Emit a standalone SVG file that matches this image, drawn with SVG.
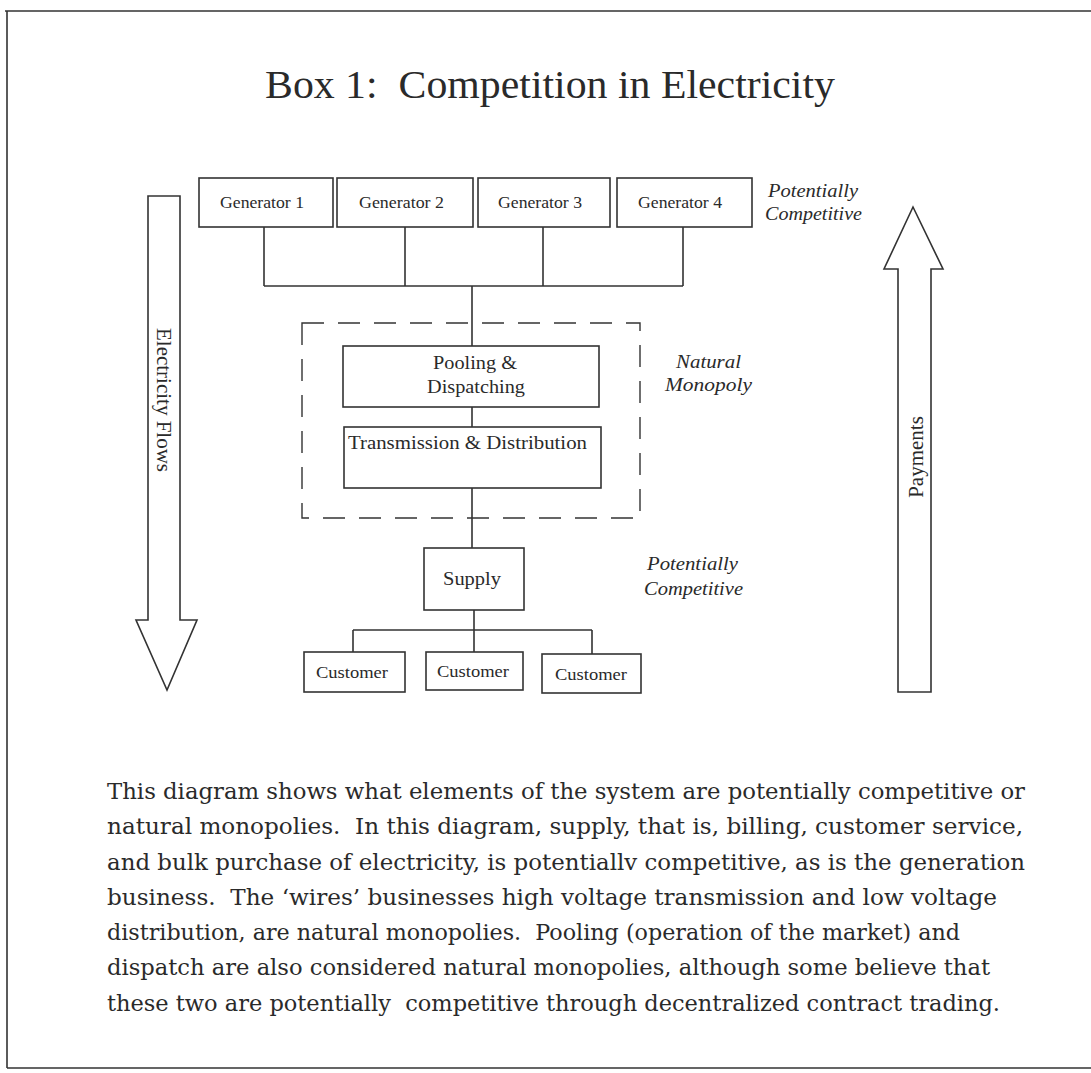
<svg xmlns="http://www.w3.org/2000/svg" width="1091" height="1073" viewBox="0 0 1091 1073">
<style>
  text { font-family: "Liberation Serif", "Times New Roman", serif; fill: #2a2a2a; white-space: pre; }
  .box { fill: #fff; stroke: #333; stroke-width: 1.6; }
  .ln { stroke: #333; stroke-width: 1.6; fill: none; }
  .lbl { font-size: 17px; }
  .mid { font-size: 18px; }
  .it { font-size: 19px; font-style: italic; }
  .body { font-family: "DejaVu Serif", "Liberation Serif", serif; font-size: 22px; }
  .arrow { fill: #fff; stroke: #333; stroke-width: 1.6; stroke-linejoin: miter; }
</style>
<rect width="1091" height="1073" fill="#fff"/>
<g id="frame">
  <path class="ln" d="M5 11 H1091 M7 11 V1068 M7 1068 H1091" stroke-width="2"/>
</g>
<text id="title" x="265" y="98" font-size="39" textLength="570" lengthAdjust="spacingAndGlyphs">Box 1:  Competition in Electricity</text>

<g id="connectors">
  <path class="ln" d="M264 227 V286 M405 227 V286 M543 227 V286 M683 227 V286 M264 286 H683 M472 286 V346 M472 407 V427 M472 488 V548 M474 610 V630 M353 630 H592 M353 630 V652 M474 630 V652 M592 630 V654"/>
</g>

<g id="generator1"><rect class="box" x="199" y="178" width="134" height="49"/><text class="lbl" x="220" y="208" textLength="84" lengthAdjust="spacingAndGlyphs">Generator 1</text></g>
<g id="generator2"><rect class="box" x="337" y="178" width="136" height="49"/><text class="lbl" x="359" y="208" textLength="85" lengthAdjust="spacingAndGlyphs">Generator 2</text></g>
<g id="generator3"><rect class="box" x="478" y="178" width="132" height="49"/><text class="lbl" x="498" y="208" textLength="84" lengthAdjust="spacingAndGlyphs">Generator 3</text></g>
<g id="generator4"><rect class="box" x="617" y="178" width="135" height="49"/><text class="lbl" x="638" y="208" textLength="84" lengthAdjust="spacingAndGlyphs">Generator 4</text></g>
<g id="label-gen"><text class="it" x="768" y="197" textLength="90" lengthAdjust="spacingAndGlyphs">Potentially</text><text class="it" x="765" y="220" textLength="97" lengthAdjust="spacingAndGlyphs">Competitive</text></g>

<g id="natural-monopoly-zone">
  <rect x="302" y="323" width="338" height="195" fill="none" stroke="#333" stroke-width="1.4" stroke-dasharray="22 14"/>
</g>
<g id="pooling"><rect class="box" x="343" y="346" width="256" height="61"/><text class="mid" x="433" y="369" textLength="84" lengthAdjust="spacingAndGlyphs">Pooling &amp;</text><text class="mid" x="427" y="393" textLength="98" lengthAdjust="spacingAndGlyphs">Dispatching</text></g>
<g id="transmission"><rect class="box" x="344" y="427" width="257" height="61"/><text class="mid" x="348" y="449" textLength="239" lengthAdjust="spacingAndGlyphs">Transmission &amp; Distribution</text></g>
<g id="label-nm"><text class="it" x="676" y="368" textLength="65" lengthAdjust="spacingAndGlyphs">Natural</text><text class="it" x="665" y="391" textLength="87" lengthAdjust="spacingAndGlyphs">Monopoly</text></g>

<g id="supply"><rect class="box" x="424" y="548" width="100" height="62"/><text class="mid" x="443" y="585" font-size="19" textLength="58" lengthAdjust="spacingAndGlyphs">Supply</text></g>
<g id="label-supply"><text class="it" x="647" y="570" textLength="91" lengthAdjust="spacingAndGlyphs">Potentially</text><text class="it" x="644" y="595" textLength="99" lengthAdjust="spacingAndGlyphs">Competitive</text></g>

<g id="customer1"><rect class="box" x="304" y="652" width="101" height="40"/><text class="lbl" x="316" y="678" textLength="72" lengthAdjust="spacingAndGlyphs">Customer</text></g>
<g id="customer2"><rect class="box" x="426" y="652" width="97" height="38"/><text class="lbl" x="437" y="677" textLength="72" lengthAdjust="spacingAndGlyphs">Customer</text></g>
<g id="customer3"><rect class="box" x="542" y="654" width="99" height="39"/><text class="lbl" x="555" y="680" textLength="72" lengthAdjust="spacingAndGlyphs">Customer</text></g>

<g id="electricity-flows">
  <path class="arrow" d="M148 196 H180 V620 H197 L167 690 L136 620 H148 Z"/>
  <text x="0" y="0" font-size="21" text-anchor="middle" transform="translate(157 400) rotate(90)">Electricity Flows</text>
</g>
<g id="payments">
  <path class="arrow" d="M898 692 H931 V269 H943 L913 207 L884 269 H898 Z"/>
  <text x="0" y="0" font-size="21" text-anchor="middle" transform="translate(923 457) rotate(-90)">Payments</text>
</g>

<g id="caption">
  <text class="body" x="107" y="799" textLength="918" lengthAdjust="spacingAndGlyphs">This diagram shows what elements of the system are potentially competitive or</text>
  <text class="body" x="107" y="834" textLength="916" lengthAdjust="spacingAndGlyphs">natural monopolies.  In this diagram, supply, that is, billing, customer service,</text>
  <text class="body" x="107" y="870" textLength="918" lengthAdjust="spacingAndGlyphs">and bulk purchase of electricity, is potentiallv competitive, as is the generation</text>
  <text class="body" x="107" y="905" textLength="890" lengthAdjust="spacingAndGlyphs">business.  The ‘wires’ businesses high voltage transmission and low voltage</text>
  <text class="body" x="107" y="940" textLength="853" lengthAdjust="spacingAndGlyphs">distribution, are natural monopolies.  Pooling (operation of the market) and</text>
  <text class="body" x="107" y="975" textLength="883" lengthAdjust="spacingAndGlyphs">dispatch are also considered natural monopolies, although some believe that</text>
  <text class="body" x="107" y="1011" textLength="893" lengthAdjust="spacingAndGlyphs">these two are potentially  competitive through decentralized contract trading.</text>
</g>
</svg>
